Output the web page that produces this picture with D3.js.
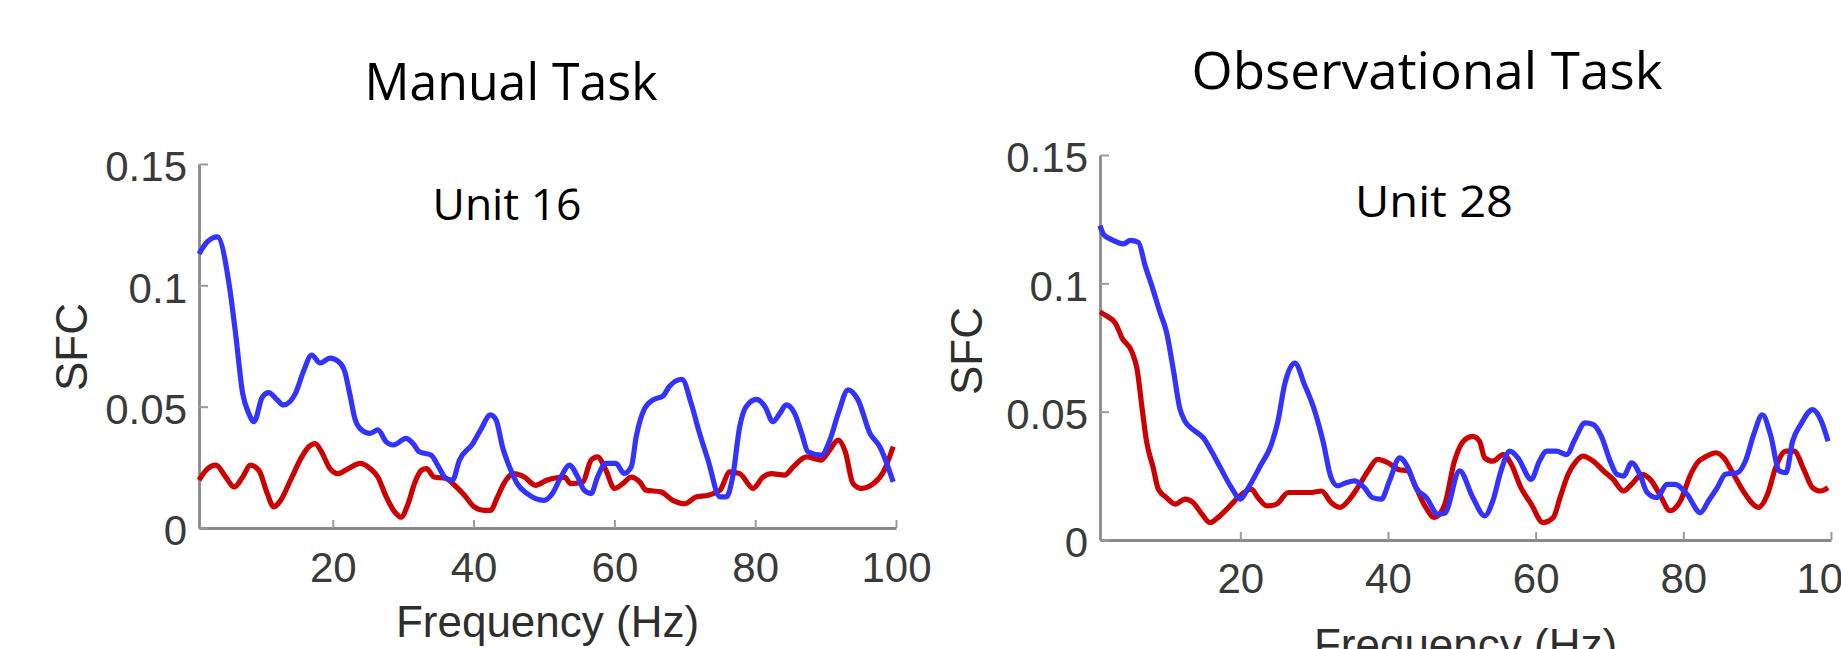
<!DOCTYPE html>
<html>
  <head>
    <meta charset="UTF-8">
    <title>SFC</title>
  </head>
  <style type="text/css">
    body { margin: 0; background: #fff; }
    .tick text { font: 42px "Liberation Sans", Arial, sans-serif; fill: #3a3a3a; }
    .axis path.domain { stroke: #8a8a8a; stroke-width: 2.8; }
    .axis .tick line { stroke: #9a9a9a; stroke-width: 2; }
    .label { font: 44px "Liberation Sans", Arial, sans-serif; fill: #2e2e2e; }
    .title { font: 52px "Open Sans", sans-serif; fill: #000; }
    .unit { font: 44px "Open Sans", sans-serif; fill: #000; }
  </style>
  <body>
    <svg width="1841" height="649"></svg>
  </body>
  <script src="https://d3js.org/d3.v7.min.js"></script>
  <script type="text/javascript">
    // tick labels
    const xTicks = [20, 40, 60, 80, 100];
    const yTicks = [0, 0.05, 0.1, 0.15];
    const yTickLabels = ['0', '0.05', '0.1', '0.15'];

    // [frequency (Hz), SFC]
    const manualBlue = [[1,0.113],[2.2,0.118],[3.6,0.120],[5.3,0.100],[6.2,0.080],[7.2,0.0555],[8.1,0.047],[8.8,0.0438],[10.0,0.054],[10.9,0.0558],[12.1,0.0528],[13.0,0.0507],[14.7,0.0555],[15.9,0.065],[17.0,0.0713],[18.2,0.068],[19.6,0.070],[20.8,0.0686],[21.7,0.0645],[22.4,0.0555],[23.2,0.0445],[24.1,0.0404],[25.3,0.039],[26.4,0.0404],[27.6,0.0355],[28.6,0.0342],[30.4,0.0369],[31.4,0.0348],[32.3,0.0314],[34.0,0.030],[34.9,0.0259],[36.1,0.0204],[37.0,0.0197],[38.0,0.028],[39.9,0.0348],[41.0,0.0404],[42.4,0.0466],[43.2,0.0445],[44.1,0.0335],[45.3,0.0238],[46.2,0.0183],[47.6,0.0142],[50.0,0.0114],[51.2,0.0142],[52.4,0.021],[53.6,0.0259],[54.8,0.021],[55.7,0.0156],[56.7,0.0142],[57.6,0.021],[58.8,0.0266],[60.2,0.0266],[61.4,0.0225],[62.4,0.0252],[63.1,0.0376],[64.3,0.0493],[65.5,0.0528],[66.9,0.0544],[67.8,0.0583],[69.6,0.0613],[70.9,0.0514],[72.1,0.039],[73.3,0.028],[75.0,0.0128],[75.9,0.0128],[76.8,0.021],[77.8,0.0417],[78.7,0.050],[80.2,0.053],[81.4,0.050],[82.5,0.0438],[83.5,0.0472],[84.4,0.0507],[85.6,0.0472],[86.6,0.039],[87.5,0.0314],[89.4,0.030],[90.6,0.0362],[91.8,0.0472],[93.2,0.0569],[94.6,0.0528],[96.3,0.039],[97.7,0.0335],[99.6,0.019]];
    const manualRed = [[1,0.0197],[2.0,0.0238],[3.4,0.0259],[4.8,0.021],[6.0,0.0169],[7.2,0.021],[8.3,0.0259],[9.5,0.0238],[10.7,0.0142],[11.6,0.0087],[12.6,0.0114],[14.0,0.0197],[15.6,0.0293],[16.6,0.0335],[17.5,0.0348],[18.4,0.0314],[19.6,0.0245],[20.8,0.0224],[22.2,0.0245],[23.9,0.0266],[25.3,0.0245],[26.4,0.021],[27.6,0.0128],[28.8,0.0066],[29.7,0.0045],[30.7,0.010],[31.6,0.0183],[32.6,0.0238],[33.3,0.0245],[34.4,0.021],[36.1,0.0204],[37.3,0.0176],[38.7,0.0135],[40.1,0.0087],[41.5,0.0073],[42.4,0.0073],[43.4,0.0128],[44.3,0.0183],[45.7,0.0224],[47.2,0.021],[48.8,0.0176],[50.4,0.0197],[51.2,0.0204],[52.9,0.021],[53.8,0.0183],[55.5,0.019],[56.7,0.028],[57.6,0.0293],[58.8,0.0238],[60.0,0.0163],[61.2,0.0183],[62.4,0.021],[63.6,0.019],[64.5,0.0156],[66.6,0.0149],[68.3,0.0114],[70.0,0.010],[71.6,0.0128],[73.3,0.0135],[75.0,0.0156],[76.4,0.0231],[77.8,0.0224],[79.7,0.0163],[81.1,0.021],[82.3,0.0224],[84.2,0.0218],[85.4,0.0252],[87.3,0.0293],[89.4,0.028],[90.4,0.0314],[91.8,0.0362],[92.8,0.0314],[93.9,0.0183],[95.1,0.0163],[96.8,0.0183],[98.2,0.0231],[99.6,0.0335]];

    const observBlue = [[1,0.1225],[1.5,0.119],[2.6,0.117],[4.2,0.1154],[5.1,0.1167],[6.2,0.116],[7.1,0.107],[8.0,0.0992],[9.1,0.0889],[10.0,0.0811],[10.9,0.0669],[11.8,0.0514],[12.5,0.0463],[13.6,0.043],[15.0,0.0398],[16.1,0.0346],[17.3,0.0282],[18.8,0.0204],[20.0,0.0159],[21.1,0.0204],[22.7,0.0288],[24.2,0.0372],[25.1,0.0463],[26.0,0.0605],[27.4,0.0689],[28.7,0.0605],[30.1,0.0501],[31.2,0.0385],[32.3,0.0243],[33.2,0.0211],[34.4,0.0224],[35.5,0.023],[36.8,0.0204],[37.9,0.0165],[39.1,0.0159],[40.2,0.023],[41.6,0.032],[42.7,0.0282],[43.8,0.0204],[45.2,0.0165],[46.8,0.0100],[47.7,0.0105],[49.7,0.0269],[51.5,0.0165],[53.1,0.0094],[54.2,0.0152],[55.3,0.0269],[56.5,0.0346],[57.6,0.032],[59.4,0.0236],[60.5,0.0307],[61.5,0.0346],[62.8,0.0346],[64.2,0.0333],[65.3,0.0391],[66.7,0.0456],[67.8,0.045],[68.9,0.0404],[70.1,0.0307],[71.0,0.0256],[71.9,0.0249],[73.0,0.0301],[74.1,0.0256],[75.1,0.0185],[76.4,0.0165],[77.8,0.0217],[78.9,0.0217],[80.5,0.0178],[82.3,0.0107],[83.4,0.0152],[84.6,0.0204],[85.7,0.0256],[87.3,0.0262],[88.4,0.0307],[89.6,0.0417],[90.7,0.0488],[91.8,0.0411],[93.0,0.0269],[93.9,0.0262],[94.8,0.0385],[95.9,0.045],[97.5,0.0508],[98.6,0.0469],[99.6,0.0385]];
    const observRed = [[1,0.0889],[1.7,0.0876],[3.1,0.0844],[4.0,0.0786],[5.3,0.0734],[6.0,0.0669],[6.7,0.0514],[7.3,0.0385],[8.2,0.0282],[8.9,0.0198],[10.0,0.0165],[11.2,0.014],[12.5,0.0159],[13.6,0.0146],[14.8,0.0101],[15.9,0.0068],[17.0,0.0088],[18.4,0.0127],[19.7,0.0165],[21.5,0.0198],[22.4,0.0165],[23.6,0.0133],[24.9,0.014],[26.5,0.0185],[28.1,0.0185],[29.6,0.0185],[31.0,0.0191],[32.3,0.0146],[33.5,0.0127],[34.8,0.0159],[35.9,0.0204],[37.3,0.0269],[38.6,0.0314],[40.0,0.0301],[41.4,0.0275],[42.7,0.0269],[43.6,0.0217],[45.0,0.0133],[46.3,0.0088],[47.7,0.014],[49.0,0.0307],[50.4,0.0391],[51.5,0.0404],[52.4,0.0385],[53.1,0.032],[54.2,0.0307],[55.6,0.0333],[56.7,0.0295],[58.0,0.0204],[59.4,0.014],[61.0,0.0068],[62.4,0.0088],[63.3,0.0165],[64.4,0.0256],[65.5,0.0307],[66.4,0.0327],[67.8,0.0307],[69.2,0.0269],[70.5,0.0236],[71.9,0.0191],[73.0,0.0217],[74.4,0.0256],[75.7,0.023],[76.9,0.0172],[78.2,0.0114],[79.6,0.0152],[81.0,0.0256],[81.9,0.0301],[83.2,0.0327],[84.4,0.034],[85.5,0.032],[86.8,0.0256],[88.4,0.0178],[90.2,0.0127],[91.4,0.0178],[92.5,0.0282],[93.9,0.0346],[95.0,0.0346],[96.4,0.0269],[97.5,0.0204],[98.6,0.0191],[99.6,0.0204]];

    const panels = [
      { title: 'Manual Task', unit: 'Unit 16', blue: manualBlue, red: manualRed,
        x0: 199, x1: 896, yBottom: 528, yTop: 164,
        titleX: 511, titleY: 100, titleW: 293, unitX: 507, unitY: 220, unitW: 149,
        sfcX: 87, sfcY: 347, freqY: 637, xPad: 24 },
      { title: 'Observational Task', unit: 'Unit 28', blue: observBlue, red: observRed,
        x0: 1100, x1: 1831, yBottom: 540, yTop: 155,
        titleX: 1427, titleY: 89, titleW: 471, unitX: 1434, unitY: 217, unitW: 158,
        sfcX: 982, sfcY: 351, freqY: 660, xPad: 23 }
    ];

    const svg = d3.select('svg');
    svg.append('rect').attr('width', 1841).attr('height', 649).attr('fill', '#fff');

    panels.forEach(p => {
      const x = d3.scaleLinear().domain([1, 100]).range([p.x0, p.x1]);
      const y = d3.scaleLinear().domain([0, 0.15]).range([p.yBottom, p.yTop]);
      const g = svg.append('g');

      g.append('g')
          .attr('class', 'axis')
          .attr('transform', 'translate(0,' + p.yBottom + ')')
          .call(d3.axisBottom(x).tickValues(xTicks).tickSizeInner(-8).tickSizeOuter(0).tickPadding(p.xPad));

      g.append('g')
          .attr('class', 'axis')
          .attr('transform', 'translate(' + p.x0 + ',0)')
          .call(d3.axisLeft(y).tickValues(yTicks).tickSizeInner(-9).tickSizeOuter(0).tickPadding(12)
            .tickFormat((d, i) => yTickLabels[i]))
        .selectAll('.tick text')
          .attr('dy', '0.4em');

      const line = d3.line()
          .x(d => x(d[0]))
          .y(d => y(d[1]))
          .curve(d3.curveMonotoneX);

      g.append('path').datum(p.red)
          .attr('fill', 'none').attr('stroke', '#cc0000').attr('stroke-width', 5.2)
          .attr('stroke-linejoin', 'round').attr('d', line);
      g.append('path').datum(p.blue)
          .attr('fill', 'none').attr('stroke', '#3333ff').attr('stroke-width', 5.2)
          .attr('stroke-linejoin', 'round').attr('d', line);

      g.append('text').attr('class', 'title')
          .attr('x', p.titleX).attr('y', p.titleY).attr('text-anchor', 'middle')
          .attr('textLength', p.titleW).attr('lengthAdjust', 'spacingAndGlyphs')
          .text(p.title);
      g.append('text').attr('class', 'unit')
          .attr('x', p.unitX).attr('y', p.unitY).attr('text-anchor', 'middle')
          .attr('textLength', p.unitW).attr('lengthAdjust', 'spacingAndGlyphs')
          .text(p.unit);

      g.append('text').attr('class', 'label')
          .attr('transform', 'translate(' + p.sfcX + ',' + p.sfcY + ') rotate(-90)')
          .attr('text-anchor', 'middle')
          .text('SFC');
      g.append('text').attr('class', 'label')
          .attr('x', (p.x0 + p.x1) / 2).attr('y', p.freqY).attr('text-anchor', 'middle')
          .text('Frequency (Hz)');
    });
  </script>
</html>
